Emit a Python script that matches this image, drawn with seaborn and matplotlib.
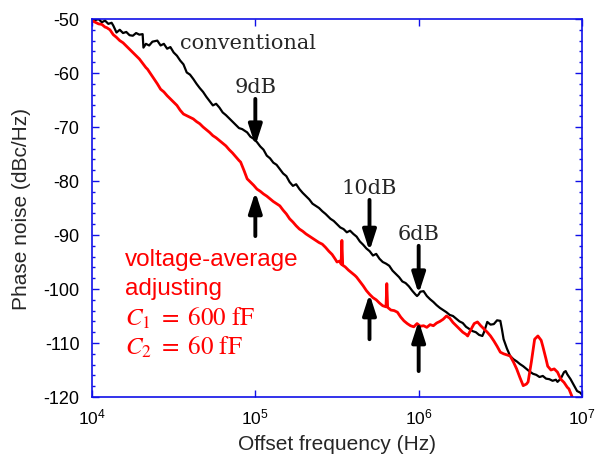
import numpy as np
import pandas as pd
import matplotlib
matplotlib.use("Agg")
import matplotlib.pyplot as plt
import seaborn as sns
from matplotlib.ticker import FixedLocator, MultipleLocator, NullLocator

# ---- data (log10 of offset frequency in Hz, phase noise in dBc/Hz) ----
conv_logf = [4.00, 4.02, 4.04, 4.06, 4.08, 4.10, 4.12, 4.13, 4.15, 4.17, 4.19, 4.21, 4.23, 4.25,
             4.27, 4.29, 4.31, 4.315, 4.33, 4.35, 4.37, 4.40, 4.42, 4.44, 4.46, 4.48, 4.50, 4.52,
             4.54, 4.56, 4.58, 4.60, 4.62, 4.64, 4.66, 4.68, 4.70, 4.72, 4.74, 4.76, 4.78, 4.80,
             4.82, 4.84, 4.86, 4.88, 4.90, 4.92, 4.95, 4.97, 4.99, 5.01, 5.03, 5.05, 5.07, 5.09,
             5.11, 5.13, 5.15, 5.17, 5.19, 5.21, 5.23, 5.25, 5.27, 5.29, 5.31, 5.33, 5.35, 5.37,
             5.39, 5.41, 5.43, 5.46, 5.48, 5.50, 5.52, 5.54, 5.56, 5.58, 5.60, 5.62, 5.64, 5.66,
             5.68, 5.70, 5.72, 5.74, 5.76, 5.78, 5.80, 5.82, 5.84, 5.86, 5.88, 5.90, 5.92, 5.94,
             5.96, 5.98, 5.99, 6.00, 6.01, 6.03, 6.05, 6.07, 6.09, 6.11, 6.13, 6.15, 6.17, 6.19,
             6.21, 6.23, 6.25, 6.27, 6.29, 6.31, 6.33, 6.35, 6.37, 6.39, 6.40, 6.42, 6.44, 6.46,
             6.48, 6.50, 6.51, 6.52, 6.54, 6.56, 6.58, 6.60, 6.62, 6.64, 6.66, 6.68, 6.70, 6.72,
             6.74, 6.76, 6.78, 6.80, 6.82, 6.84, 6.85, 6.87, 6.89, 6.90, 6.91, 6.93, 6.95, 6.97,
             6.99, 7.00]
conv_noise = [-50.0, -50.2, -50.0, -50.6, -50.3, -50.9, -50.7, -51.2, -52.5, -52.0, -52.6, -52.4,
              -53.0, -53.1, -52.6, -52.9, -52.8, -55.3, -54.6, -54.9, -54.2, -54.0, -54.9, -54.6,
              -55.5, -55.2, -56.2, -56.8, -57.7, -58.4, -59.9, -60.3, -61.1, -62.0, -62.8, -63.5,
              -64.4, -65.2, -66.0, -65.7, -66.4, -67.3, -67.8, -68.4, -69.0, -69.6, -70.2, -70.4,
              -71.0, -71.8, -72.2, -72.8, -73.6, -74.2, -75.3, -75.8, -76.6, -77.0, -77.8, -78.6,
              -79.1, -80.2, -80.9, -80.6, -81.5, -82.2, -82.8, -83.4, -84.2, -84.6, -85.0, -85.6,
              -86.1, -87.0, -87.4, -88.0, -88.6, -88.9, -89.5, -89.2, -89.8, -90.3, -91.2, -91.8,
              -92.5, -93.0, -93.8, -93.5, -94.4, -95.0, -95.3, -95.7, -96.6, -97.2, -97.8, -98.6,
              -98.9, -99.5, -100.3, -101.0, -101.3, -101.0, -100.5, -100.4, -101.3, -101.9, -102.4,
              -103.0, -103.5, -103.9, -104.3, -104.8, -105.0, -105.5, -106.0, -106.3, -107.0,
              -107.4, -107.8, -108.0, -108.5, -108.7, -108.0, -106.1, -106.6, -106.5, -105.8,
              -105.9, -107.5, -109.3, -111.0, -112.4, -113.0, -113.4, -113.9, -114.3, -114.8,
              -115.3, -115.7, -115.9, -116.3, -116.1, -116.6, -116.7, -117.0, -116.8, -117.2,
              -116.6, -115.4, -115.2, -115.8, -116.7, -117.8, -118.9, -119.2, -119.6]

va_logf = [4.00, 4.02, 4.04, 4.06, 4.08, 4.09, 4.11, 4.13, 4.15, 4.17, 4.19, 4.21, 4.23, 4.25,
           4.27, 4.29, 4.31, 4.33, 4.34, 4.36, 4.38, 4.40, 4.42, 4.44, 4.46, 4.48, 4.50, 4.52,
           4.54, 4.56, 4.58, 4.60, 4.62, 4.64, 4.66, 4.68, 4.70, 4.72, 4.74, 4.76, 4.78, 4.80,
           4.82, 4.84, 4.86, 4.88, 4.90, 4.91, 4.93, 4.95, 4.97, 4.99, 5.01, 5.03, 5.05, 5.07,
           5.09, 5.11, 5.13, 5.15, 5.17, 5.19, 5.21, 5.23, 5.25, 5.27, 5.29, 5.31, 5.33, 5.35,
           5.37, 5.39, 5.41, 5.43, 5.45, 5.47, 5.49, 5.50, 5.52, 5.525, 5.53, 5.535, 5.55, 5.57,
           5.59, 5.61, 5.62, 5.64, 5.66, 5.68, 5.70, 5.72, 5.74, 5.76, 5.78, 5.80, 5.805, 5.81,
           5.83, 5.85, 5.87, 5.89, 5.91, 5.93, 5.95, 5.97, 5.99, 6.01, 6.03, 6.05, 6.07, 6.09,
           6.11, 6.13, 6.15, 6.17, 6.19, 6.21, 6.23, 6.25, 6.27, 6.29, 6.30, 6.32, 6.34, 6.36,
           6.38, 6.40, 6.42, 6.44, 6.46, 6.48, 6.50, 6.52, 6.54, 6.56, 6.58, 6.60, 6.62, 6.64,
           6.66, 6.67, 6.69, 6.71, 6.73, 6.75, 6.76, 6.78, 6.79, 6.81, 6.83, 6.85, 6.87, 6.89,
           6.91, 6.92, 6.94, 6.96]
va_noise = [-50.3, -50.6, -50.9, -51.0, -51.5, -51.6, -52.0, -52.9, -53.4, -54.0, -54.4, -55.0,
            -55.6, -56.2, -56.8, -57.4, -58.2, -59.0, -59.3, -60.2, -61.1, -62.0, -63.0, -63.5,
            -64.2, -64.8, -65.4, -66.0, -66.9, -67.6, -67.9, -68.2, -68.5, -69.0, -69.4, -70.0,
            -70.5, -71.0, -71.6, -72.0, -72.5, -73.0, -73.5, -74.2, -74.8, -75.5, -76.2, -76.5,
            -78.0, -79.6, -80.2, -80.8, -81.5, -81.9, -82.4, -82.8, -83.3, -83.8, -84.2, -84.6,
            -85.4, -86.1, -87.0, -87.6, -88.3, -88.9, -89.3, -89.8, -90.2, -90.6, -91.0, -91.4,
            -91.7, -92.3, -93.0, -93.6, -94.5, -95.0, -94.8, -95.4, -91.0, -95.6, -95.9, -96.5,
            -97.0, -97.5, -97.8, -98.6, -99.4, -100.3, -101.0, -101.6, -102.0, -102.6, -103.1,
            -103.3, -99.0, -103.4, -103.9, -104.0, -104.3, -105.2, -105.9, -106.4, -106.8,
            -107.0, -106.4, -106.9, -106.8, -107.1, -106.6, -106.8, -106.3, -106.0, -105.6,
            -105.0, -105.4, -106.2, -106.8, -107.4, -108.0, -108.4, -108.7, -107.5, -106.4,
            -106.1, -106.8, -107.4, -108.0, -108.7, -109.6, -110.6, -111.7, -112.0, -112.2,
            -112.4, -113.5, -114.8, -116.4, -117.9, -117.6, -117.2, -113.5, -109.3, -108.7,
            -109.5, -110.6, -113.0, -114.3, -115.0, -114.8, -115.4, -116.7, -117.3, -118.2,
            -118.5, -120.0, -121.5]

series_names = ["conventional", "voltage-average adjusting"]
series_colors = ["#000000", "#ff0000"]

# arrows: (label, frequency Hz, down-arrow start/end dB, up-arrow start/end dB)
arrow_labels = ["9dB", "10dB", "6dB"]
arrow_freqs = [1e5, 5e5, 1e6]
down_from = [-64.8, -83.5, -92.0]
down_to = [-73.5, -93.0, -100.9]
up_from = [-90.2, -109.3, -115.2]
up_to = [-82.0, -100.9, -105.9]

# ---- build table ----
df = pd.concat([
    pd.DataFrame({"freq": 10 ** np.array(conv_logf), "noise": conv_noise, "series": series_names[0]}),
    pd.DataFrame({"freq": 10 ** np.array(va_logf), "noise": va_noise, "series": series_names[1]}),
], ignore_index=True)

sns.set_style("white")
plt.rcParams["font.family"] = ["Liberation Sans", "DejaVu Sans"]
plt.rcParams["mathtext.fontset"] = "stix"
plt.rcParams["axes.unicode_minus"] = False

fig = plt.figure(figsize=(5.96, 4.56), dpi=100)
ax = fig.add_axes([92 / 596, 58 / 456, 490 / 596, 378 / 456])

sns.lineplot(data=df, x="freq", y="noise", hue="series", hue_order=series_names,
             palette=series_colors, estimator=None, sort=False, legend=False,
             linewidth=1.7, ax=ax)
for ln, w in zip(ax.lines, [1.6, 2.0]):
    ln.set_linewidth(w)

ax.set_xscale("log")
ax.set_xlim(1e4, 1e7)
ax.set_ylim(-120, -50)

blue = "#1010e8"
for sp in ax.spines.values():
    sp.set_visible(True)
    sp.set_color(blue)
    sp.set_linewidth(1.2)

ax.xaxis.set_major_locator(FixedLocator([1e4, 1e5, 1e6, 1e7]))
ax.xaxis.set_minor_locator(NullLocator())
ax.yaxis.set_major_locator(MultipleLocator(10))
ax.yaxis.set_minor_locator(MultipleLocator(2))
ax.tick_params(which="both", direction="in", colors=blue, labelcolor="#000000",
               top=True, right=True, bottom=True, left=True)
ax.tick_params(which="major", length=5, width=1.0)
ax.tick_params(which="minor", length=2.5, width=1.0)
ax.tick_params(axis="y", which="major", pad=9, labelsize=13)
ax.tick_params(axis="x", which="major", pad=7, labelsize=12.5)

ax.set_xlabel("Offset frequency (Hz)", fontsize=15, labelpad=5)
ax.set_ylabel("Phase noise (dBc/Hz)", fontsize=15, labelpad=9)

serif = ["DejaVu Serif"]
ax.text(10 ** 4.54, -54.3, "conventional", family=serif, fontsize=15, va="center", ha="left")
for lab, f, d0, d1, u0, u1 in zip(arrow_labels, arrow_freqs, down_from, down_to, up_from, up_to):
    ax.text(f, d0 + 0.6, lab, family=serif, fontsize=15, ha="center", va="bottom")
    style = "-|>,head_length=0.62,head_width=0.2"
    ax.annotate("", xy=(f, d1), xytext=(f, d0),
                arrowprops=dict(arrowstyle=style, color="black", lw=2.8, mutation_scale=20,
                                shrinkA=0, shrinkB=0))
    ax.annotate("", xy=(f, u1), xytext=(f, u0),
                arrowprops=dict(arrowstyle=style, color="black", lw=2.8, mutation_scale=20,
                                shrinkA=0, shrinkB=0))

red = "#ff0000"
ax.text(10 ** 4.2, -94.4, "voltage-average", color=red, fontsize=17.5, va="center", ha="left")
ax.text(10 ** 4.2, -99.8, "adjusting", color=red, fontsize=17.5, va="center", ha="left")
ax.text(10 ** 4.2, -105.3, r"$C_1\ =\ 600\ \mathrm{fF}$", color=red, fontsize=18, va="center", ha="left")
ax.text(10 ** 4.2, -110.7, r"$C_2\ =\ 60\ \mathrm{fF}$", color=red, fontsize=18, va="center", ha="left")

fig.savefig("out.png", dpi=100)
